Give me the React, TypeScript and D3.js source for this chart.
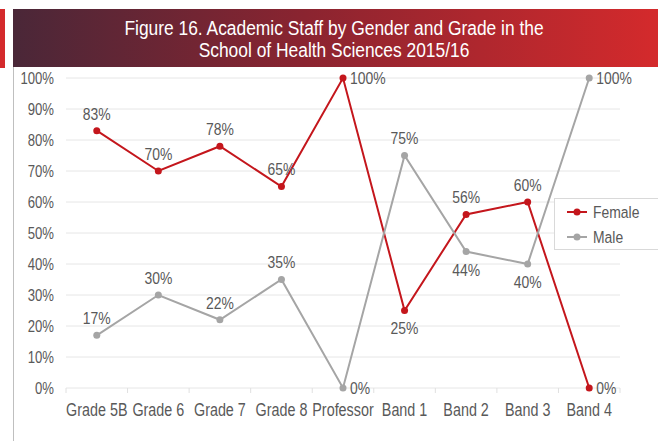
import React from "react";
import * as d3 from "d3";

const categories = ["Grade 5B", "Grade 6", "Grade 7", "Grade 8", "Professor", "Band 1", "Band 2", "Band 3", "Band 4"];
const female = [83, 70, 78, 65, 100, 25, 56, 60, 0];
const male = [17, 30, 22, 35, 0, 75, 44, 40, 100];
const yTicks = [0, 10, 20, 30, 40, 50, 60, 70, 80, 90, 100];
// label placement per point: a = above, b = below, r = right
const femalePos = ["a", "a", "a", "a", "r", "b", "a", "a", "r"];
const malePos = ["a", "a", "a", "a", "r", "a", "b", "b", "r"];
const titleLines = ["Figure 16. Academic Staff by Gender and Grade in the", "School of Health Sciences 2015/16"];

const W = 658;
const H = 441;
const FONT = "'Liberation Sans', Arial, sans-serif";
const TEXT = "#595959";
const RED = "#c4161c";
const GREY = "#a5a5a5";
const NARROW = 0.82;

// Condensed text: a regular sans face squeezed horizontally around its anchor point
function NText(props: {
  x: number;
  y: number;
  size: number;
  anchor?: "start" | "middle" | "end";
  fill?: string;
  squeeze?: number;
  children: React.ReactNode;
}) {
  const { x, y, size, anchor = "start", fill = TEXT, squeeze = NARROW, children } = props;
  return (
    <g transform={`translate(${x},${y}) scale(${squeeze},1)`}>
      <text x={0} y={0} dy="0.35em" textAnchor={anchor} fill={fill} fontSize={size}>
        {children}
      </text>
    </g>
  );
}

export default function App() {
  const x = d3.scaleBand<string>().domain(categories).range([66, 620]);
  const y = d3.scaleLinear().domain([0, 100]).range([388, 78]);
  const cx = (c: string) => (x(c) as number) + x.bandwidth() / 2;
  const line = d3
    .line<number>()
    .x((_, i) => cx(categories[i]))
    .y((v) => y(v));

  const series = [
    { name: "Female", values: female, pos: femalePos, color: RED },
    { name: "Male", values: male, pos: malePos, color: GREY },
  ];

  return (
    <svg width={W} height={H} style={{ position: "absolute", left: 0, top: 0 }} fontFamily={FONT}>
      <defs>
        <linearGradient id="banner" x1="0" x2="1" y1="0" y2="0">
          <stop offset="0" stopColor="#4a2738" />
          <stop offset="0.45" stopColor="#8a2430" />
          <stop offset="1" stopColor="#d42a2c" />
        </linearGradient>
      </defs>
      <rect x={0} y={0} width={W} height={H} fill="#ffffff" />
      <rect x={0} y={9} width={5} height={59} fill="#d42a2c" />
      <rect x={13} y={9} width={W - 13} height={58} fill="url(#banner)" />
      {titleLines.map((t, i) => (
        <NText key={t} x={334} y={28 + i * 22} size={20} anchor="middle" fill="#ffffff" squeeze={0.87}>
          {t}
        </NText>
      ))}
      <line x1={13.5} x2={13.5} y1={67} y2={H} stroke="#bfbfbf" strokeWidth={1} />

      {yTicks.map((t) => (
        <g key={t}>
          <line x1={66} x2={620} y1={y(t)} y2={y(t)} stroke="#e6e6e6" strokeWidth={1} />
          <NText x={54} y={y(t)} size={16} anchor="end">
            {t}%
          </NText>
        </g>
      ))}
      {categories.concat([""]).map((c, i) => {
        const xb = 66 + i * x.step();
        return <line key={"tk" + i} x1={xb} x2={xb} y1={388} y2={393} stroke="#e0e0e0" />;
      })}
      {categories.map((c) => (
        <NText key={c} x={cx(c)} y={410} size={17.5} anchor="middle">
          {c}
        </NText>
      ))}

      {series.map((s) => (
        <g key={s.name}>
          <path d={line(s.values) || ""} fill="none" stroke={s.color} strokeWidth={2} />
          {s.values.map((v, i) => (
            <circle key={i} cx={cx(categories[i])} cy={y(v)} r={3.5} fill={s.color} />
          ))}
          {s.values.map((v, i) => {
            const p = s.pos[i];
            const px = cx(categories[i]);
            const py = y(v);
            if (p === "r")
              return (
                <NText key={"l" + i} x={px + 7} y={py} size={17}>
                  {v}%
                </NText>
              );
            return (
              <NText key={"l" + i} x={px} y={p === "a" ? py - 17 : py + 18} size={17} anchor="middle">
                {v}%
              </NText>
            );
          })}
        </g>
      ))}

      <rect x={554.5} y={198.5} width={110} height={51} fill="#ffffff" stroke="#d9d9d9" />
      {series.map((s, i) => (
        <g key={"lg" + s.name}>
          <line x1={567} x2={587} y1={212 + i * 25} y2={212 + i * 25} stroke={s.color} strokeWidth={2} />
          <circle cx={577} cy={212 + i * 25} r={3.5} fill={s.color} />
          <NText x={593} y={212 + i * 25} size={17}>
            {s.name}
          </NText>
        </g>
      ))}
    </svg>
  );
}
